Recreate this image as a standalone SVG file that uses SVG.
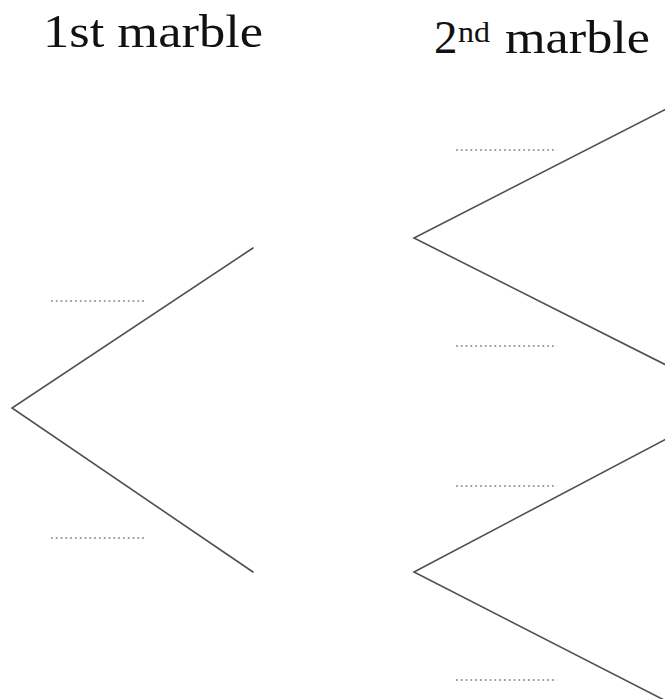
<svg xmlns="http://www.w3.org/2000/svg" width="665" height="699" viewBox="0 0 665 699">
<style>
.t{font-family:"Liberation Serif","DejaVu Serif",serif;fill:#111}
.br{stroke:#505050;stroke-width:1.6;fill:none;stroke-linecap:round}
.dot{stroke:#a0a0a0;stroke-width:1.8;stroke-dasharray:1.8 3;fill:none}
</style>
<rect width="665" height="699" fill="#fff"/>
<g id="title1"><text class="t" x="43" y="47" font-size="47" textLength="220" lengthAdjust="spacingAndGlyphs">1st marble</text></g>
<g id="title2"><text class="t" font-size="47"><tspan x="434" y="53">2</tspan><tspan x="458" y="42" font-size="30" textLength="32" lengthAdjust="spacingAndGlyphs">nd</tspan><tspan x="505" y="53" textLength="145" lengthAdjust="spacingAndGlyphs">marble</tspan></text></g>
<g id="connectors">
<polyline class="br" points="253,248 12,408 253,572"/>
<polyline class="br" points="668,108 414,238 668,366"/>
<polyline class="br" points="668,438 414,572 668,702"/>
</g>
<g id="blanks">
<line class="dot" x1="51" y1="301" x2="146" y2="301"/>
<line class="dot" x1="51" y1="538" x2="146" y2="538"/>
<line class="dot" x1="456" y1="150" x2="557" y2="150"/>
<line class="dot" x1="456" y1="346" x2="557" y2="346"/>
<line class="dot" x1="456" y1="486" x2="557" y2="486"/>
<line class="dot" x1="456" y1="680" x2="557" y2="680"/>
</g>
</svg>
